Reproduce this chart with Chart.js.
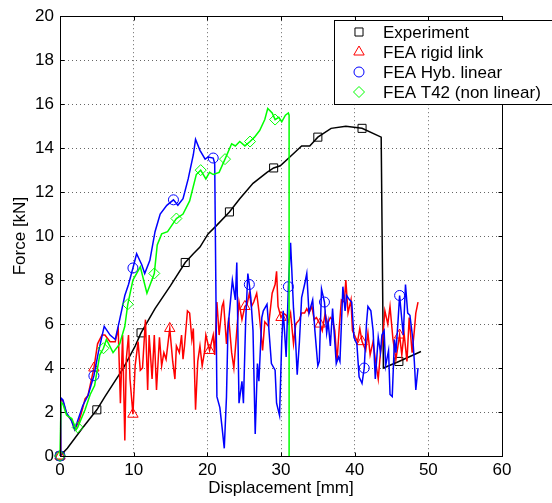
<!DOCTYPE html>
<html>
<head>
<meta charset="utf-8">
<script src="https://cdn.jsdelivr.net/npm/chart.js@4.4.1/dist/chart.umd.min.js"></script>
<style>
html, body { margin: 0; padding: 0; background: #fff; }
</style>
</head>
<body>
<canvas id="forceChart" width="552" height="503"></canvas>
<script>
// Experiment (black, squares)
const expX = [0, 1, 3, 5, 6.1, 8.6, 10.2, 11, 12.9, 15, 17, 18.1, 19, 20.1, 21.3, 23, 24.4, 26.2, 28.1, 29, 29.9, 31.2, 32.8, 33.9, 35, 36.8, 38.8, 41, 43.6, 43.9, 46, 49];
const expY = [0, 0.35, 1.25, 2.1, 2.7, 4.0, 5.0, 5.6, 6.7, 7.75, 8.8, 9.2, 9.5, 10.1, 10.5, 11.1, 11.7, 12.4, 12.9, 13.1, 13.2, 13.6, 14.1, 14.1, 14.5, 14.9, 15.0, 14.9, 14.5, 4.0, 4.3, 4.75];
const expMarks = [0, 5, 11, 17, 23, 29, 35, 41, 46];

// FEA rigid link (red, triangles)
const rigidX = [0, 0.1, 0.4, 0.9, 1.6, 2.0, 2.6, 3.1, 3.4, 3.8, 4.6, 5.1, 5.7, 6.1, 6.8, 7.5, 7.9, 8.2, 8.5, 8.8, 9.0, 9.3, 9.5, 9.9, 10.2, 10.6, 10.9, 11.2, 11.6, 11.9, 12.1, 12.5, 12.8, 13.1, 13.5, 13.8, 14.1, 14.4, 14.9, 15.3, 15.6, 15.8, 16.2, 16.5, 16.7, 16.9, 17.3, 17.6, 17.9, 18.1, 18.4, 18.7, 19.0, 19.3, 19.6, 19.8, 20.3, 20.8, 21.0, 21.3, 21.6, 22.0, 22.2, 22.6, 22.9, 23.3, 23.6, 24.0, 24.3, 24.7, 25.1, 25.4, 25.7, 26.0, 26.3, 26.7, 27.0, 27.2, 27.5, 27.8, 28.3, 28.8, 29.2, 29.4, 29.6, 30.0, 30.3, 30.7, 31.0, 31.3, 31.7, 32.0, 32.5, 32.8, 33.2, 33.5, 33.8, 34.2, 34.5, 34.8, 35.3, 35.6, 36.0, 36.3, 36.7, 37.0, 37.3, 37.6, 37.9, 38.2, 38.6, 38.8, 39.1, 39.5, 39.7, 40.1, 40.4, 40.7, 41.0, 41.5, 41.8, 42.1, 42.5, 42.8, 43.2, 43.5, 43.8, 44.1, 44.5, 44.8, 45.2, 45.6, 46.1, 46.4, 46.7, 47.1, 47.4, 47.8, 48.1, 48.3, 48.6];
const rigidY = [0, 2.6, 2.5, 1.9, 1.6, 1.2, 1.6, 2.2, 2.6, 2.75, 4.0, 5.1, 5.5, 5.5, 5.2, 5.2, 5.8, 2.4, 5.5, 0.7, 4.4, 5.5, 3.5, 1.9, 4.1, 5.2, 3.9, 4.0, 6.2, 3.0, 5.5, 3.5, 5.5, 3.0, 5.4, 4.1, 4.7, 4.4, 5.8, 4.3, 3.5, 5.0, 4.7, 5.5, 4.4, 5.0, 6.6, 6.5, 5.3, 5.8, 2.1, 4.3, 5.0, 4.1, 4.7, 5.5, 4.8, 5.5, 4.6, 7.0, 5.5, 6.8, 7.0, 5.1, 6.3, 4.7, 4.0, 5.7, 7.0, 6.2, 6.8, 6.9, 7.4, 6.8, 7.0, 7.4, 6.6, 5.9, 4.8, 6.1, 5.9, 7.4, 7.8, 8.4, 6.8, 6.3, 6.5, 6.4, 6.1, 6.5, 5.1, 6.0, 6.2, 6.5, 6.5, 6.7, 6.5, 6.8, 6.2, 6.3, 6.0, 5.7, 6.5, 6.0, 6.3, 6.2, 5.7, 4.3, 5.8, 7.1, 7.0, 8.0, 6.5, 7.1, 5.7, 5.4, 5.2, 5.8, 5.2, 4.8, 5.6, 4.6, 5.2, 4.4, 3.5, 4.7, 5.3, 6.6, 6.0, 6.8, 5.3, 4.4, 5.5, 4.6, 5.6, 4.3, 6.3, 4.7, 5.7, 6.5, 7.0];
const rigidMarks = [0, 4.6, 9.9, 14.9, 20.3, 25.1, 30.0, 35.3, 41.0, 46.1];

// FEA Hyb. linear (blue, circles)
const hybX = [0, 0.1, 0.4, 0.9, 1.5, 2.0, 3.1, 3.8, 4.6, 5.2, 6.0, 6.8, 7.5, 8.1, 8.8, 9.3, 9.9, 10.4, 11.1, 11.5, 12.2, 12.9, 13.6, 14.5, 15.4, 16.0, 16.7, 17.4, 18.1, 18.4, 19.0, 19.7, 20.1, 20.8, 21.0, 21.3, 21.7, 22.0, 22.3, 22.6, 22.8, 23.4, 23.8, 24.0, 24.3, 24.7, 24.9, 25.2, 25.5, 25.7, 25.9, 26.2, 26.5, 26.8, 27.0, 27.4, 27.6, 28.1, 28.7, 29.2, 29.4, 29.8, 30.1, 30.3, 30.7, 31.0, 31.3, 31.7, 31.9, 32.2, 32.5, 32.8, 33.2, 33.5, 33.8, 34.3, 34.6, 35.0, 35.2, 35.5, 35.9, 36.2, 36.4, 36.7, 37.0, 37.5, 37.8, 38.0, 38.4, 38.7, 38.9, 39.3, 39.6, 39.9, 40.3, 40.6, 41.0, 41.3, 41.6, 41.8, 42.2, 42.5, 42.8, 43.2, 43.5, 43.7, 44.0, 44.2, 44.6, 44.8, 45.1, 45.4, 45.6, 45.9, 46.1, 46.4, 46.6, 46.9, 47.2, 47.5, 47.9, 48.1, 48.3, 48.6];
const hybY = [0, 2.65, 2.55, 1.95, 1.65, 1.2, 2.3, 2.75, 3.65, 4.7, 5.9, 5.5, 5.3, 6.2, 7.3, 7.8, 8.55, 9.2, 8.7, 8.3, 8.9, 10.2, 11.0, 11.4, 11.65, 11.4, 11.7, 12.6, 13.7, 14.4, 13.9, 13.5, 13.6, 13.55, 13.3, 2.7, 2.2, 1.3, 0.35, 2.7, 5.8, 8.0, 7.1, 8.8, 2.4, 3.4, 2.4, 6.1, 8.3, 7.8, 7.2, 5.7, 1.0, 4.2, 3.4, 6.3, 6.6, 6.9, 4.2, 3.9, 2.4, 1.85, 5.2, 6.6, 4.5, 7.7, 9.7, 6.7, 5.8, 3.7, 5.2, 7.2, 7.8, 8.3, 6.5, 7.1, 5.7, 4.1, 4.3, 7.6, 7.0, 5.6, 6.1, 5.0, 6.7, 4.2, 4.5, 4.3, 7.7, 6.6, 7.3, 7.1, 7.0, 5.4, 5.1, 3.6, 3.3, 4.0, 6.0, 6.8, 6.6, 5.7, 3.5, 5.4, 4.7, 5.5, 5.7, 4.1, 4.8, 2.8, 2.7, 5.3, 4.7, 6.2, 7.3, 6.2, 5.5, 7.8, 6.5, 6.4, 5.3, 4.3, 3.0, 4.0];
const hybMarks = [0, 4.6, 9.9, 15.4, 20.8, 25.7, 31.0, 35.9, 41.3, 46.1];

// FEA T42 (non linear) (green, diamonds)
const t42X = [0, 0.14, 0.4, 0.9, 1.6, 2.2, 2.4, 3.4, 4.1, 4.7, 5.4, 5.9, 6.3, 7.2, 8.1, 8.8, 9.2, 9.9, 10.9, 11.8, 12.8, 13.2, 13.8, 14.6, 15.2, 15.8, 16.7, 17.6, 18.5, 19.1, 19.8, 20.3, 20.8, 21.6, 22.4, 23.3, 23.8, 24.4, 25.1, 25.8, 26.4, 27.1, 27.8, 28.2, 28.8, 29.2, 29.7, 30.1, 30.6, 31.0, 31.1, 31.1];
const t42Y = [0, 2.45, 2.35, 1.85, 1.7, 1.2, 1.3, 2.1, 2.8, 3.2, 4.6, 4.9, 5.3, 4.7, 5.1, 5.9, 6.9, 8.0, 8.6, 7.4, 8.3, 9.6, 10.1, 10.2, 10.5, 10.8, 11.0, 11.6, 12.8, 13.0, 12.6, 12.9, 12.8, 12.9, 13.5, 14.2, 14.1, 14.3, 14.1, 14.3, 14.5, 14.8, 15.3, 15.8, 15.6, 15.3, 15.4, 15.2, 15.5, 15.6, 15.5, 0];
const t42Marks = [0, 2.4, 5.9, 9.2, 12.8, 15.8, 19.1, 22.4, 25.8, 29.2];

const xTicks = [0, 10, 20, 30, 40, 50, 60];
const yTicks = [0, 2, 4, 6, 8, 10, 12, 14, 16, 18, 20];

const seriesNames = ['Experiment', 'FEA rigid link', 'FEA Hyb. linear', 'FEA T42 (non linear)'];

const FONT = '"Liberation Sans", Arial, Helvetica, sans-serif';

function toPoints(xs, ys) {
    return xs.map((x, i) => ({ x: x, y: ys[i] }));
}

function markerRadius(xs, marks, r) {
    return xs.map(x => marks.includes(x) ? r : 0);
}

const seriesStyle = [
    { color: '#000000', style: 'rect', radius: 5.7 },
    { color: '#ff0000', style: 'triangle', radius: 6 },
    { color: '#0000ff', style: 'circle', radius: 5 },
    { color: '#00ff00', style: 'rectRot', radius: 5.5 }
];

function makeDataset(idx, xs, ys, marks, order) {
    const s = seriesStyle[idx];
    return {
        label: seriesNames[idx],
        data: toPoints(xs, ys),
        showLine: true,
        borderColor: s.color,
        borderWidth: 1.5,
        pointStyle: s.style,
        pointRadius: markerRadius(xs, marks, s.radius),
        pointHoverRadius: markerRadius(xs, marks, s.radius),
        pointBorderColor: s.color,
        pointBackgroundColor: 'rgba(0,0,0,0)',
        pointBorderWidth: 1,
        tension: 0,
        clip: false,
        order: order
    };
}

// frame, inward ticks, legend box and axis titles (matlab look)
const matlabFrame = {
    id: 'matlabFrame',
    afterDraw(chart) {
        const ctx = chart.ctx;
        const a = chart.chartArea;
        const xs = chart.scales.x;
        const ys = chart.scales.y;
        const L = Math.round(a.left) + 0.5, R = Math.round(a.right) + 0.5;
        const T = Math.round(a.top) + 0.5, B = Math.round(a.bottom) + 0.5;
        ctx.save();
        ctx.strokeStyle = '#000';
        ctx.lineWidth = 1;
        ctx.strokeRect(L, T, R - L, B - T);

        const tl = 4;
        ctx.beginPath();
        xTicks.forEach(v => {
            const px = Math.round(xs.getPixelForValue(v)) + 0.5;
            ctx.moveTo(px, B); ctx.lineTo(px, B - tl);
            ctx.moveTo(px, T); ctx.lineTo(px, T + tl);
        });
        yTicks.forEach(v => {
            const py = Math.round(ys.getPixelForValue(v)) + 0.5;
            ctx.moveTo(L, py); ctx.lineTo(L + tl, py);
            ctx.moveTo(R, py); ctx.lineTo(R - tl, py);
        });
        ctx.stroke();

        // axis titles
        ctx.fillStyle = '#000';
        ctx.font = '17px ' + FONT;
        ctx.textAlign = 'center';
        ctx.textBaseline = 'middle';
        ctx.fillText('Displacement [mm]', (a.left + a.right) / 2, 488);
        ctx.save();
        ctx.translate(20, (a.top + a.bottom) / 2);
        ctx.rotate(-Math.PI / 2);
        ctx.fillText('Force [kN]', 0, 0);
        ctx.restore();

        // legend
        const bx = 334.5, by = 20.5, bw = 230, bh = 84;
        ctx.fillStyle = '#fff';
        ctx.fillRect(bx, by, bw, bh);
        ctx.strokeRect(bx, by, bw, bh);
        ctx.textAlign = 'left';
        seriesNames.forEach((name, i) => {
            const y = 32 + i * 20;
            const s = seriesStyle[i];
            ctx.strokeStyle = s.color;
            ctx.fillStyle = 'rgba(0,0,0,0)';
            ctx.lineWidth = 1;
            Chart.helpers.drawPoint(ctx, { pointStyle: s.style, radius: s.radius, rotation: 0, borderWidth: 1 }, 359, y);
            ctx.fillStyle = '#000';
            ctx.fillText(name, 383, y + 1);
        });
        ctx.restore();
    }
};

const ctx = document.getElementById('forceChart').getContext('2d');
new Chart(ctx, {
    type: 'scatter',
    data: {
        datasets: [
            makeDataset(0, expX, expY, expMarks, 4),
            makeDataset(1, rigidX, rigidY, rigidMarks, 3),
            makeDataset(2, hybX, hybY, hybMarks, 2),
            makeDataset(3, t42X, t42Y, t42Marks, 1)
        ]
    },
    options: {
        responsive: false,
        animation: false,
        events: [],
        layout: { padding: { left: 0, right: 50, top: 14, bottom: 0 } },
        plugins: {
            legend: { display: false },
            tooltip: { enabled: false }
        },
        scales: {
            x: {
                type: 'linear',
                min: 0,
                max: 60,
                afterBuildTicks: function(scale) {
                    scale.ticks = xTicks.map(v => ({ value: v }));
                },
                afterFit: function(scale) { scale.height = 47; },
                ticks: {
                    color: '#000',
                    padding: 4,
                    maxRotation: 0,
                    font: { family: FONT, size: 17 }
                },
                grid: { color: 'rgba(0,0,0,0.6)', lineWidth: 1, drawTicks: false },
                border: { display: false, dash: [1, 3] }
            },
            y: {
                type: 'linear',
                min: 0,
                max: 20,
                afterBuildTicks: function(scale) {
                    scale.ticks = yTicks.map(v => ({ value: v }));
                },
                afterFit: function(scale) { scale.width = 60; },
                ticks: {
                    color: '#000',
                    padding: 6,
                    font: { family: FONT, size: 17 }
                },
                grid: { color: 'rgba(0,0,0,0.6)', lineWidth: 1, drawTicks: false },
                border: { display: false, dash: [1, 3] }
            }
        }
    },
    plugins: [matlabFrame]
});
</script>
</body>
</html>
